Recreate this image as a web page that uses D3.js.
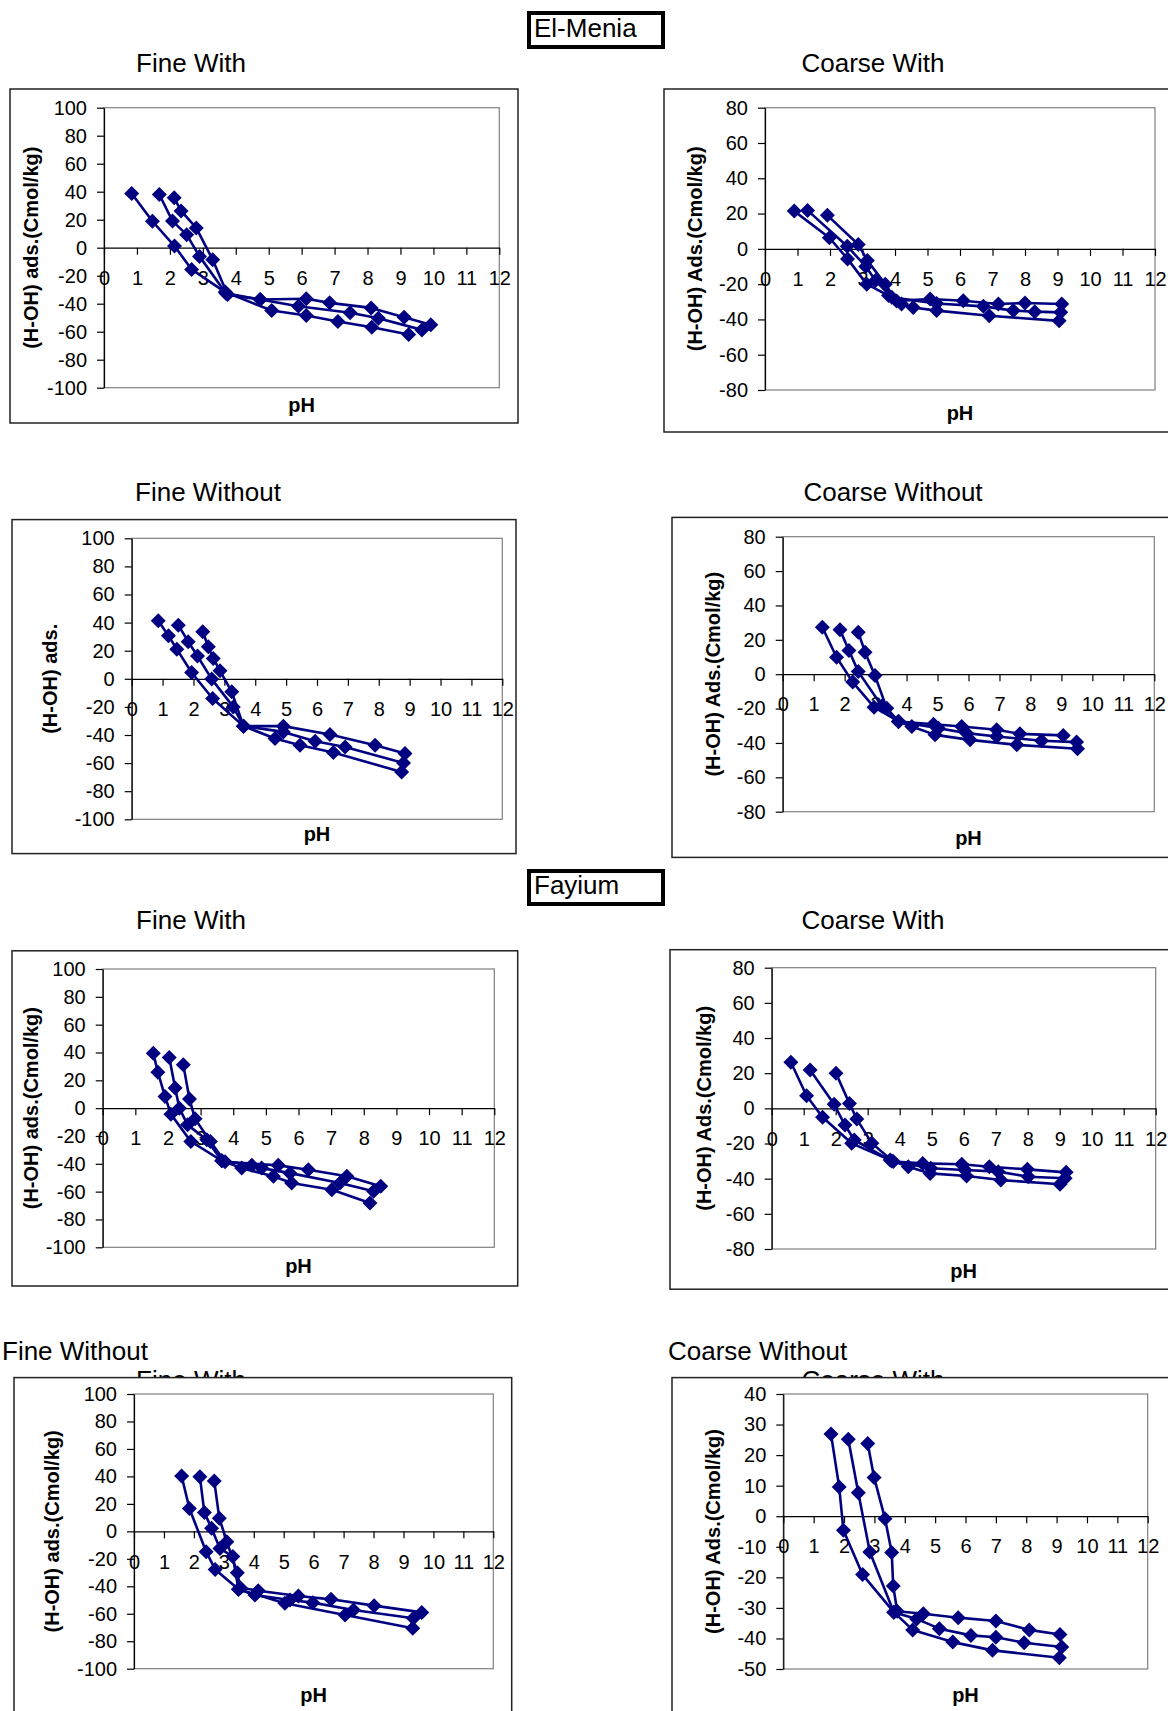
<!DOCTYPE html>
<html>
<head>
<meta charset="utf-8">
<script src="https://cdn.jsdelivr.net/npm/d3@7"></script>
<style>
  body { margin: 0; background: #fff; }
  svg { display: block; font-family: "Liberation Sans", Arial, sans-serif; }
</style>
</head>
<body>
<svg id="chart" width="1168" height="1711"></svg>
<script>
// pH ticks shared by every panel
var phTicks = d3.range(0, 13);

// El-Menia, each panel has three curves of [pH, (H-OH) ads.]
var menFineWith = [
	[[0.84, 38.7], [1.47, 18.9], [2.14, 1.2], [2.66, -15.5], [3.68, -31.7], [5.09, -44.9], [6.14, -48.4], [7.1, -52.7], [8.13, -56.8], [9.25, -62]],
	[[1.68, 38], [2.08, 19], [2.51, 9.3], [2.9, -6.2], [3.7, -32.5], [4.74, -37], [5.9, -41.8], [7.47, -46.5], [8.33, -50.4], [9.65, -58.7]],
	[[2.13, 35.6], [2.34, 26.3], [2.8, 14.1], [3.3, -8.6], [3.75, -33.5], [4.74, -37], [6.14, -36.5], [6.85, -39.4], [8.11, -43], [9.11, -49.6], [9.92, -55.1]]
];
var menCoarseWith = [
	[[0.9, 21.4], [1.98, 6.3], [2.54, -5.7], [3.13, -20], [3.8, -26.5], [4.2, -31.3], [4.56, -33.2], [5.28, -35], [6.9, -37.9], [9.05, -40.8]],
	[[1.31, 21.8], [2.53, 1.5], [3.1, -10], [3.4, -18], [3.9, -27.5], [5.28, -31], [6.72, -32.6], [7.64, -35], [8.3, -35.6], [9.1, -36]],
	[[1.92, 19], [2.87, 2.5], [3.15, -6.6], [3.7, -20], [4.05, -29.5], [5.08, -28.4], [6.1, -29.4], [7.18, -31.3], [8.0, -30.7], [9.13, -31.3]]
];
var menFineWithout = [
	[[0.86, 41.3], [1.19, 30.6], [1.46, 21.1], [1.94, 4.5], [2.62, -14], [3.62, -33.7], [4.64, -42.5], [5.45, -47.3], [6.53, -52.5], [8.74, -66.3]],
	[[1.51, 38.2], [1.83, 26.4], [2.13, 16.2], [2.59, -0.2], [3.29, -20], [3.62, -33.7], [4.91, -37.8], [5.94, -44.4], [6.91, -48.5], [8.8, -59.9]],
	[[2.3, 33.5], [2.48, 22.8], [2.64, 14.5], [2.86, 5.7], [3.24, -9.3], [3.62, -33.7], [4.91, -33.7], [6.42, -39.7], [7.88, -47.3], [8.85, -53.2]]
];
var menCoarseWithout = [
	[[1.28, 27.3], [1.74, 9.9], [2.26, -4.6], [2.95, -19.2], [3.74, -27.5], [4.17, -30.4], [4.92, -35.3], [6.05, -38.2], [7.56, -41.1], [9.52, -43.4]],
	[[1.85, 25.8], [2.14, 13.8], [2.44, 1.5], [3.2, -18.5], [3.74, -27.5], [5.03, -31.4], [5.94, -34.3], [6.91, -36.2], [8.36, -38.7], [9.49, -39.5]],
	[[2.44, 24.4], [2.66, 12.8], [2.98, -0.8], [3.36, -19.8], [3.74, -27.5], [4.87, -29.1], [5.78, -30.4], [6.91, -32.3], [7.66, -34.7], [9.06, -35.6]]
];

// Fayium
var fayFineWith = [
	[[1.55, 39.5], [1.69, 25.8], [1.91, 8.4], [2.09, -4.3], [2.7, -23.9], [3.65, -37.8], [4.26, -43.1], [5.23, -49], [5.79, -53.8], [7.02, -58.6], [8.19, -68.2]],
	[[2.04, 36.4], [2.22, 14.4], [2.35, 0], [2.6, -12], [3.19, -22.7], [3.65, -37.8], [4.57, -41.1], [4.87, -43.1], [5.74, -46.7], [7.27, -53.8], [8.3, -59.8]],
	[[2.47, 31.1], [2.66, 6.5], [2.83, -7.7], [3.3, -24], [3.75, -38.5], [5.38, -41.1], [6.3, -44.3], [7.48, -49], [8.52, -56.2]]
];
var fayCoarseWith = [
	[[0.6, 26.2], [1.09, 7.2], [1.59, -5.1], [2.5, -19.9], [3.7, -29.4], [4.27, -33.2], [4.95, -37], [6.09, -38.5], [7.16, -40.8], [9.01, -43.2]],
	[[1.2, 21.8], [1.95, 2.3], [2.29, -9.5], [2.58, -18], [3.75, -30], [4.97, -34.1], [6.04, -35.1], [7.08, -36], [8.02, -38.9], [9.17, -39.8]],
	[[2.01, 19.9], [2.43, 2.8], [2.66, -6.1], [3.13, -19.9], [3.8, -30.3], [4.72, -31.3], [5.94, -31.8], [6.8, -33.2], [7.99, -34.7], [9.2, -36.4]]
];
var fayFineWithout = [
	[[1.59, 40.3], [1.85, 16.7], [2.41, -14.8], [2.71, -27.7], [3.49, -42.2], [5.04, -52.4], [7.05, -60.9], [9.31, -70.6]],
	[[2.2, 39.8], [2.35, 13.8], [2.59, 2.2], [2.87, -12.4], [3.3, -18.4], [3.49, -42.2], [4.04, -46.4], [5.21, -50], [5.97, -51.9], [7.33, -57.3], [9.33, -63.3]],
	[[2.68, 36.7], [2.85, 9.5], [3.1, -7.5], [3.45, -30.1], [3.55, -41], [4.15, -43.2], [5.49, -47.1], [6.58, -49.5], [8.02, -54.1], [9.61, -59]]
];
var fayCoarseWithout = [
	[[1.57, 26.9], [1.84, 9.6], [1.98, -4.6], [2.61, -19.1], [3.64, -31.4], [4.26, -37.2], [5.58, -41.2], [6.89, -43.9], [9.09, -46.3]],
	[[2.14, 25.2], [2.47, 7.7], [2.85, -11.7], [3.64, -31.4], [4.39, -33.6], [5.14, -36.8], [6.18, -39], [7.0, -39.6], [7.93, -41.4], [9.17, -42.8]],
	[[2.78, 23.8], [2.99, 12.7], [3.35, -0.8], [3.57, -11.9], [3.62, -22.8], [3.75, -31.1], [4.61, -31.9], [5.76, -33.2], [7.0, -34.3], [8.1, -37.2], [9.11, -38.7]]
];

var yTicks100 = d3.range(-100, 101, 20);
var yTicks80 = d3.range(-80, 81, 20);
var yTicks40 = d3.range(-50, 41, 10);

var labelAds = "(H-OH) ads.(Cmol/kg)";
var labelAdsCap = "(H-OH) Ads.(Cmol/kg)";

// layout of each panel (frame box, plot box, label positions)
var panels = [
	{ data: menFineWith, title: "Fine With", tx: 191, ty: 72, anchor: "middle",
	  frame: [10, 89, 508, 334], plot: [104, 107.7, 499.3, 387.7], yTicks: yTicks100,
	  yLabel: labelAds, lx: 31, phY: 412 },
	{ data: menCoarseWith, title: "Coarse With", tx: 873, ty: 72, anchor: "middle",
	  frame: [664, 89, 600, 343], plot: [765, 107.7, 1155, 390], yTicks: yTicks80,
	  yLabel: labelAdsCap, lx: 695, phY: 420 },
	{ data: menFineWithout, title: "Fine Without", tx: 208, ty: 501, anchor: "middle",
	  frame: [12, 519.6, 504, 334], plot: [131.7, 538.3, 502.3, 819.3], yTicks: yTicks100,
	  yLabel: "(H-OH) ads.", lx: 50, phY: 841 },
	{ data: menCoarseWithout, title: "Coarse Without", tx: 893, ty: 501, anchor: "middle",
	  frame: [672, 517.4, 600, 340], plot: [782.7, 536.7, 1154.3, 811.7], yTicks: yTicks80,
	  yLabel: labelAdsCap, lx: 713, phY: 845 },
	{ data: fayFineWith, title: "Fine With", tx: 191, ty: 929, anchor: "middle",
	  frame: [12, 950.8, 505.7, 335.2], plot: [102.7, 969, 494.3, 1247.3], yTicks: yTicks100,
	  yLabel: labelAds, lx: 31, phY: 1273 },
	{ data: fayCoarseWith, title: "Coarse With", tx: 873, ty: 929, anchor: "middle",
	  frame: [670, 949.7, 600, 339.5], plot: [771.7, 967.7, 1155.7, 1249], yTicks: yTicks80,
	  yLabel: labelAdsCap, lx: 704, phY: 1278 },
	{ data: fayFineWithout, title: "Fine Without", tx: 2, ty: 1360, anchor: "start",
	  ghost: "Fine With", gx: 191, gy: 1389,
	  frame: [14, 1377.6, 497.7, 400], plot: [134, 1394, 493.3, 1668.7], yTicks: yTicks100,
	  yLabel: labelAds, lx: 52, phY: 1702 },
	{ data: fayCoarseWithout, title: "Coarse Without", tx: 668, ty: 1360, anchor: "start",
	  ghost: "Coarse With", gx: 873, gy: 1389,
	  frame: [672, 1377.6, 600, 400], plot: [783.3, 1394, 1147.7, 1669], yTicks: yTicks40,
	  yLabel: labelAdsCap, lx: 713, phY: 1702 }
];

var navy = "#000080";
var svg = d3.select("#chart");

// plain hyphen minus like the original sheet
var fmt = function (d) { return String(d); };

svg.append("rect").attr("width", 1168).attr("height", 1711).attr("fill", "#fff");

// site header boxes
function siteBox(name, y, h) {
	svg.append("rect")
		.attr("x", 529).attr("y", y).attr("width", 134).attr("height", h)
		.attr("fill", "#fff").attr("stroke", "#000").attr("stroke-width", 4);
	svg.append("text")
		.attr("x", 534).attr("y", y + h - 10)
		.style("font-size", "26px")
		.text(name);
}
siteBox("El-Menia", 13, 34);
siteBox("Fayium", 871, 33);

var diamond = "M0,-7.5L7.5,0L0,7.5L-7.5,0Z";

panels.forEach(function (p) {
	if (p.ghost) {
		svg.append("text")
			.attr("x", p.gx).attr("y", p.gy)
			.attr("text-anchor", "middle")
			.style("font-size", "26px")
			.text(p.ghost);
	}

	svg.append("text")
		.attr("x", p.tx).attr("y", p.ty)
		.attr("text-anchor", p.anchor)
		.style("font-size", "26px")
		.text(p.title);

	svg.append("rect")
		.attr("x", p.frame[0]).attr("y", p.frame[1])
		.attr("width", p.frame[2]).attr("height", p.frame[3])
		.attr("fill", "#fff").attr("stroke", "#222").attr("stroke-width", 1.5);

	var x0 = p.plot[0], y0 = p.plot[1], x1 = p.plot[2], y1 = p.plot[3];
	var yExt = d3.extent(p.yTicks);

	var x = d3.scaleLinear().domain([0, 12]).range([x0, x1]);
	var y = d3.scaleLinear().domain(yExt).range([y1, y0]);

	var g = svg.append("g");

	g.append("rect")
		.attr("x", x0).attr("y", y0).attr("width", x1 - x0).attr("height", y1 - y0)
		.attr("fill", "#fff").attr("stroke", "#808080").attr("stroke-width", 1.2);

	// y axis on the left edge of plot
	var yAxis = g.append("g")
		.attr("transform", "translate(" + x0 + ",0)")
		.call(d3.axisLeft(y).tickValues(p.yTicks).tickFormat(fmt).tickSize(7).tickSizeOuter(0).tickPadding(10));
	yAxis.selectAll("text").style("font-size", "20px").style("fill", "#000")
		.style("font-family", "'Liberation Sans', Arial, sans-serif");
	yAxis.selectAll("line, path").attr("stroke", "#000").attr("stroke-width", 1.2);

	// x axis drawn at zero
	var xAxis = g.append("g")
		.attr("transform", "translate(0," + y(0) + ")")
		.call(d3.axisBottom(x).tickValues(phTicks).tickFormat(fmt).tickSize(7).tickSizeOuter(0).tickPadding(16));
	xAxis.selectAll("text").style("font-size", "20px").style("fill", "#000")
		.style("font-family", "'Liberation Sans', Arial, sans-serif");
	xAxis.selectAll("line, path").attr("stroke", "#000").attr("stroke-width", 1.2);

	var line = d3.line()
		.x(function (d) { return x(d[0]); })
		.y(function (d) { return y(d[1]); });

	g.selectAll(".curve")
		.data(p.data)
		.enter()
		.append("path")
		.attr("class", "curve")
		.attr("d", line)
		.attr("fill", "none")
		.attr("stroke", navy)
		.attr("stroke-width", 2.6)
		.attr("stroke-linejoin", "round");

	var pts = [].concat.apply([], p.data);
	g.selectAll(".mark")
		.data(pts)
		.enter()
		.append("path")
		.attr("class", "mark")
		.attr("d", diamond)
		.attr("transform", function (d) { return "translate(" + x(d[0]) + "," + y(d[1]) + ")"; })
		.attr("fill", navy);

	// axis titles
	svg.append("text")
		.attr("transform", "translate(" + p.lx + "," + (y0 + y1) / 2 + ") rotate(-90)")
		.attr("text-anchor", "middle")
		.attr("dy", "0.35em")
		.style("font-size", "20px")
		.style("font-weight", "bold")
		.text(p.yLabel);

	svg.append("text")
		.attr("x", (x0 + x1) / 2).attr("y", p.phY)
		.attr("text-anchor", "middle")
		.style("font-size", "20px")
		.style("font-weight", "bold")
		.text("pH");
});
</script>
</body>
</html>
